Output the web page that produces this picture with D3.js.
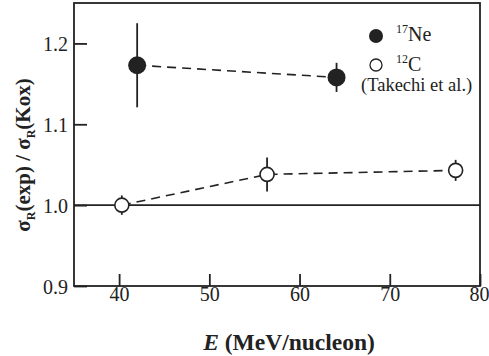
<!DOCTYPE html>
<html>
<head>
<meta charset="utf-8">
<script src="https://cdn.jsdelivr.net/npm/d3@7"></script>
<style>
  body { margin: 0; background: #fff; }
  svg { display: block; }
  svg text { font-family: "Liberation Serif", "DejaVu Serif", "Times New Roman", Times, serif !important; fill: #222; }
</style>
</head>
<body>
<svg id="chart" width="489" height="356"></svg>
<script>
// ---- data ----
const neEnergy = [42.0, 64.1];
const neRatio  = [1.173, 1.158];
const neErr    = [0.052, 0.018];

const cEnergy = [40.3, 56.4, 77.3];
const cRatio  = [1.000, 1.038, 1.043];
const cErr    = [0.012, 0.021, 0.013];

const xTicks = [40, 50, 60, 70, 80];
const yTicks = [0.9, 1.0, 1.1, 1.2];

const neData = neEnergy.map((e, i) => ({x: e, y: neRatio[i], err: neErr[i]}));
const cData  = cEnergy.map((e, i) => ({x: e, y: cRatio[i], err: cErr[i]}));

// ---- layout ----
const svg = d3.select("#chart");
const pL = 74, pR = 480, pT = 3, pB = 286;
const x = d3.scaleLinear().domain([35, 80]).range([pL, pR]);
const y = d3.scaleLinear().domain([0.9, 1.25]).range([pB, pT]);
const ink = "#222";
const serif = '"Liberation Serif", "DejaVu Serif", "Times New Roman", Times, serif';

// reference line at 1.0
svg.append("line")
  .attr("x1", pL).attr("x2", pR)
  .attr("y1", y(1.0)).attr("y2", y(1.0))
  .attr("stroke", ink).attr("stroke-width", 1.6);

// axes
const xAxis = d3.axisBottom(x).tickValues(xTicks).tickSizeInner(-12).tickSizeOuter(0).tickPadding(0)
  .tickFormat(d3.format("d"));
const gx = svg.append("g").attr("transform", `translate(0,${pB})`).call(xAxis)
  .attr("font-family", serif);
gx.select(".domain").remove();
gx.selectAll(".tick line").attr("stroke", ink).attr("stroke-width", 1.8);
gx.selectAll(".tick text").attr("y", 15).attr("dy", 0).attr("font-size", 20)
  .attr("text-anchor", d => d === 80 ? "end" : "middle")
  .attr("dx", d => d === 80 ? 9 : 0)
  .attr("fill", ink);

const yAxis = d3.axisLeft(y).tickValues(yTicks).tickSizeInner(-13).tickSizeOuter(0).tickPadding(0)
  .tickFormat(d3.format(".1f"));
const gy = svg.append("g").attr("transform", `translate(${pL},0)`).call(yAxis)
  .attr("font-family", serif);
gy.select(".domain").remove();
gy.selectAll(".tick line").attr("stroke", ink).attr("stroke-width", 1.8);
gy.selectAll(".tick text").attr("x", -6).attr("dy", "0.35em").attr("font-size", 20)
  .attr("fill", ink);

// frame
svg.append("rect")
  .attr("x", pL).attr("y", pT)
  .attr("width", pR - pL).attr("height", pB - pT)
  .attr("fill", "none").attr("stroke", ink).attr("stroke-width", 1.8);

// dashed connecting lines
const line = d3.line().x(d => x(d.x)).y(d => y(d.y));
[neData, cData].forEach(data => {
  svg.append("path").datum(data).attr("d", line)
    .attr("fill", "none").attr("stroke", ink).attr("stroke-width", 1.6)
    .attr("stroke-dasharray", "9,6");
});

// error bars
function errBars(data) {
  svg.append("g").selectAll("line").data(data).join("line")
    .attr("x1", d => x(d.x)).attr("x2", d => x(d.x))
    .attr("y1", d => y(d.y - d.err)).attr("y2", d => y(d.y + d.err))
    .attr("stroke", ink).attr("stroke-width", 1.8);
}
errBars(neData);
errBars(cData);

// markers
svg.append("g").selectAll("circle").data(neData).join("circle")
  .attr("cx", d => x(d.x)).attr("cy", d => y(d.y)).attr("r", 9)
  .attr("fill", ink);
svg.append("g").selectAll("circle").data(cData).join("circle")
  .attr("cx", d => x(d.x)).attr("cy", d => y(d.y)).attr("r", 7)
  .attr("fill", "#fff").attr("stroke", ink).attr("stroke-width", 1.6);

// legend
svg.append("circle").attr("cx", 376).attr("cy", 36).attr("r", 7).attr("fill", ink);
svg.append("circle").attr("cx", 376).attr("cy", 65).attr("r", 6).attr("fill", "#fff")
  .attr("stroke", ink).attr("stroke-width", 1.3);
const l1 = svg.append("text").attr("x", 396).attr("y", 41).attr("font-size", 20).attr("font-family", serif);
l1.append("tspan").attr("font-size", 12).attr("dy", -8).text("17");
l1.append("tspan").attr("dy", 8).text("Ne");
const l2 = svg.append("text").attr("x", 396).attr("y", 71).attr("font-size", 20).attr("font-family", serif);
l2.append("tspan").attr("font-size", 12).attr("dy", -8).text("12");
l2.append("tspan").attr("dy", 8).text("C");
svg.append("text").attr("x", 361).attr("y", 91).attr("font-size", 18.5).attr("font-family", serif)
  .text("(Takechi et al.)");

// x label
const xl = svg.append("text").attr("x", 289).attr("y", 350).attr("text-anchor", "middle")
  .attr("font-size", 23.5).attr("font-weight", "bold").attr("font-family", serif);
xl.append("tspan").attr("font-style", "italic").text("E");
xl.append("tspan").text(" (MeV/nucleon)");

// y label
const yl = svg.append("text").attr("transform", "translate(30,155) rotate(-90)")
  .attr("text-anchor", "middle").attr("font-size", 21).attr("font-weight", "bold").attr("font-family", serif);
yl.append("tspan").text("σ");
yl.append("tspan").attr("font-size", 12).attr("dy", 5).text("R");
yl.append("tspan").attr("dy", -5).text("(exp) / σ");
yl.append("tspan").attr("font-size", 12).attr("dy", 5).text("R");
yl.append("tspan").attr("dy", -5).text("(Kox)");
</script>
</body>
</html>
